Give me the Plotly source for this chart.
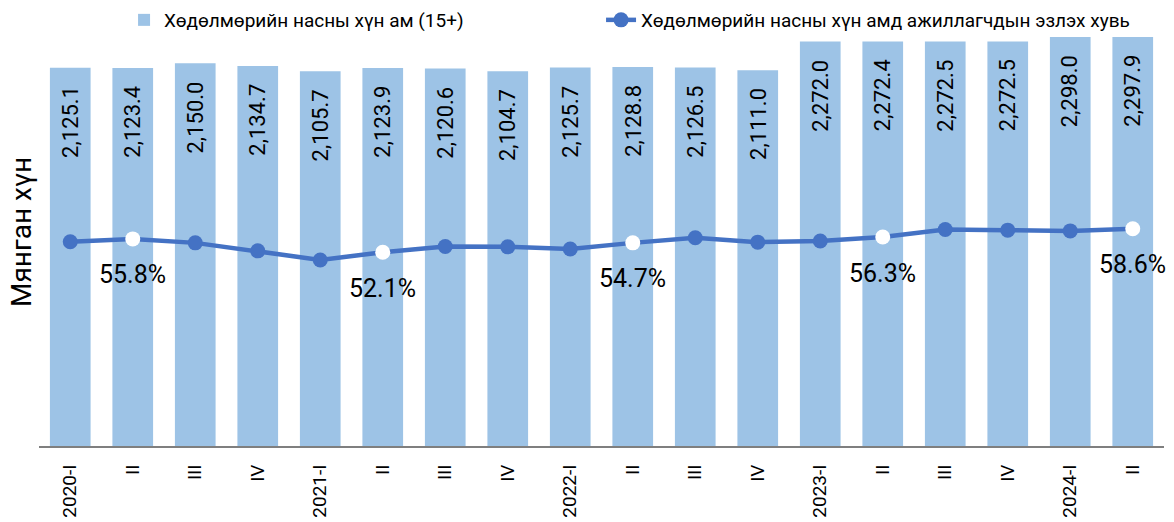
import plotly.graph_objects as go

quarters = ["2020-I", "2020-II", "2020-III", "2020-IV",
            "2021-I", "2021-II", "2021-III", "2021-IV",
            "2022-I", "2022-II", "2022-III", "2022-IV",
            "2023-I", "2023-II", "2023-III", "2023-IV",
            "2024-I", "2024-II"]
tick_labels = ["2020-I", "II", "III", "IV",
               "2021-I", "II", "III", "IV",
               "2022-I", "II", "III", "IV",
               "2023-I", "II", "III", "IV",
               "2024-I", "II"]
working_age_pop = [2125.1, 2123.4, 2150.0, 2134.7,
                   2105.7, 2123.9, 2120.6, 2104.7,
                   2125.7, 2128.8, 2126.5, 2111.0,
                   2272.0, 2272.4, 2272.5, 2272.5,
                   2298.0, 2297.9]
employment_rate = [55.0, 55.8, 54.7, 52.5,
                   50.0, 52.1, 53.7, 53.6,
                   53.0, 54.7, 56.1, 54.9,
                   55.2, 56.3, 58.4, 58.2,
                   58.0, 58.6]
rate_labeled = [False, True, False, False,
                False, True, False, False,
                False, True, False, False,
                False, True, False, False,
                False, True]

BAR_COLOR = "#9DC3E6"
LINE_COLOR = "#4472C4"
FONT = "Roboto, Arial, sans-serif"

fig = go.Figure()
fig.add_trace(go.Bar(
    x=quarters, y=working_age_pop,
    name="Хөдөлмөрийн насны хүн ам (15+)",
    marker=dict(color=BAR_COLOR, line=dict(width=0)),
    yaxis="y", legend="legend",
))
fig.add_trace(go.Scatter(
    x=quarters, y=employment_rate,
    name="Хөдөлмөрийн насны хүн амд ажиллагчдын эзлэх хувь",
    mode="lines+markers",
    line=dict(color=LINE_COLOR, width=4.5),
    marker=dict(size=15,
                color=["white" if f else LINE_COLOR for f in rate_labeled],
                line=dict(width=0)),
    yaxis="y2", legend="legend2",
))

annotations = []
for q, v in zip(quarters, working_age_pop):
    annotations.append(dict(
        x=q, y=v, xref="x", yref="y", text=f"{v:,.1f}",
        textangle=-90, showarrow=False, yanchor="top", xanchor="center",
        yshift=-16, font=dict(family=FONT, size=22, color="black"),
    ))
for q, v, f in zip(quarters, employment_rate, rate_labeled):
    if f:
        annotations.append(dict(
            x=q, y=v, xref="x", yref="y2", text=f"{v:.1f}%",
            showarrow=False, yanchor="middle", xanchor="center",
            yshift=-36, font=dict(family=FONT, size=25, color="black"),
        ))
annotations.append(dict(
    x=-0.0151, y=0.522, xref="paper", yref="paper", text="Мянган хүн",
    textangle=-90, showarrow=False, xanchor="center", yanchor="middle",
    font=dict(family=FONT, size=28, color="black"),
))

legend_common = dict(orientation="h", xanchor="left", yanchor="middle",
                     font=dict(family=FONT, size=19, color="black"),
                     bgcolor="rgba(0,0,0,0)", itemclick=False)

fig.update_layout(
    width=1174, height=522,
    margin=dict(l=39, r=10, t=36, b=76, autoexpand=False),
    paper_bgcolor="white", plot_bgcolor="white",
    font=dict(family=FONT, color="black"),
    bargap=0.349,
    showlegend=True,
    legend=dict(x=0.0756, y=1.039, **legend_common),
    legend2=dict(x=0.4996, y=1.039, **legend_common),
    xaxis=dict(
        range=[-0.5, len(quarters) - 0.5],
        tickmode="array", tickvals=quarters, ticktext=tick_labels,
        tickangle=-90, tickfont=dict(family=FONT, size=19, color="black"),
        showline=True, linecolor="#7F7F7F", linewidth=2,
        ticks="", showgrid=False, ticklabelstandoff=9, automargin=False,
    ),
    yaxis=dict(
        range=[0, 2303], showticklabels=False, showgrid=False, zeroline=False,
        automargin=False,
    ),
    yaxis2=dict(
        range=[-1.26, 111.69], overlaying="y", side="right", visible=False,
        showgrid=False, zeroline=False, automargin=False,
    ),
    annotations=annotations,
)

fig.write_html("out.html",
               config={"displayModeBar": False},
               post_script="document.body.style.margin='0';document.body.style.overflow='hidden';")
